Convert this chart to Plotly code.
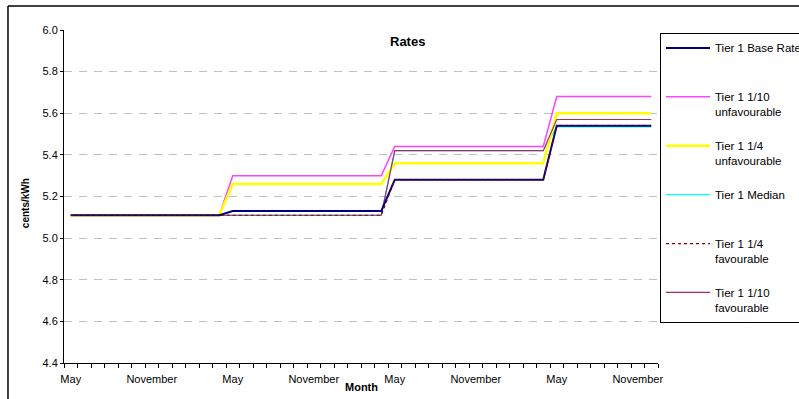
import plotly.graph_objects as go

# 44 monthly points, May (year 1) .. December (year 4)
month_index = list(range(44))
tick_positions = [0, 6, 12, 18, 24, 30, 36, 42]
tick_labels = ["May", "November", "May", "November", "May", "November", "May", "November"]

base = [5.11, 5.11, 5.11, 5.11, 5.11, 5.11, 5.11, 5.11, 5.11, 5.11, 5.11, 5.11,
        5.13, 5.13, 5.13, 5.13, 5.13, 5.13, 5.13, 5.13, 5.13, 5.13, 5.13, 5.13,
        5.28, 5.28, 5.28, 5.28, 5.28, 5.28, 5.28, 5.28, 5.28, 5.28, 5.28, 5.28,
        5.54, 5.54, 5.54, 5.54, 5.54, 5.54, 5.54, 5.54]
unfav_10 = [5.11, 5.11, 5.11, 5.11, 5.11, 5.11, 5.11, 5.11, 5.11, 5.11, 5.11, 5.11,
            5.30, 5.30, 5.30, 5.30, 5.30, 5.30, 5.30, 5.30, 5.30, 5.30, 5.30, 5.30,
            5.44, 5.44, 5.44, 5.44, 5.44, 5.44, 5.44, 5.44, 5.44, 5.44, 5.44, 5.44,
            5.68, 5.68, 5.68, 5.68, 5.68, 5.68, 5.68, 5.68]
unfav_4 = [5.11, 5.11, 5.11, 5.11, 5.11, 5.11, 5.11, 5.11, 5.11, 5.11, 5.11, 5.11,
           5.26, 5.26, 5.26, 5.26, 5.26, 5.26, 5.26, 5.26, 5.26, 5.26, 5.26, 5.26,
           5.36, 5.36, 5.36, 5.36, 5.36, 5.36, 5.36, 5.36, 5.36, 5.36, 5.36, 5.36,
           5.60, 5.60, 5.60, 5.60, 5.60, 5.60, 5.60, 5.60]
median = [5.11, 5.11, 5.11, 5.11, 5.11, 5.11, 5.11, 5.11, 5.11, 5.11, 5.11, 5.11,
          5.11, 5.11, 5.11, 5.11, 5.11, 5.11, 5.11, 5.11, 5.11, 5.11, 5.11, 5.11,
          5.42, 5.42, 5.42, 5.42, 5.42, 5.42, 5.42, 5.42, 5.42, 5.42, 5.42, 5.42,
          5.535, 5.535, 5.535, 5.535, 5.535, 5.535, 5.535, 5.535]
fav_4 = [5.11, 5.11, 5.11, 5.11, 5.11, 5.11, 5.11, 5.11, 5.11, 5.11, 5.11, 5.11,
         5.11, 5.11, 5.11, 5.11, 5.11, 5.11, 5.11, 5.11, 5.11, 5.11, 5.11, 5.11,
         5.28, 5.28, 5.28, 5.28, 5.28, 5.28, 5.28, 5.28, 5.28, 5.28, 5.28, 5.28,
         5.54, 5.54, 5.54, 5.54, 5.54, 5.54, 5.54, 5.54]
fav_10 = [5.11, 5.11, 5.11, 5.11, 5.11, 5.11, 5.11, 5.11, 5.11, 5.11, 5.11, 5.11,
          5.11, 5.11, 5.11, 5.11, 5.11, 5.11, 5.11, 5.11, 5.11, 5.11, 5.11, 5.11,
          5.42, 5.42, 5.42, 5.42, 5.42, 5.42, 5.42, 5.42, 5.42, 5.42, 5.42, 5.42,
          5.57, 5.57, 5.57, 5.57, 5.57, 5.57, 5.57, 5.57]

y_ticks = [4.4, 4.6, 4.8, 5.0, 5.2, 5.4, 5.6, 5.8, 6.0]
y_labels = ["4.4", "4.6", "4.8", "5.0", "5.2", "5.4", "5.6", "5.8", "6.0"]

FONT = "Liberation Sans, Arial, sans-serif"
NB = "\u00a0"

# draw order (bottom to top) with legend rank for legend order
series = [
    ("Tier 1 Median<br>" + NB, median, "#00FFFF", 1.2, "solid", 4),
    ("Tier 1 1/10<br>unfavourable", unfav_10, "#FF44FF", 1.5, "solid", 2),
    ("Tier 1 1/4<br>unfavourable", unfav_4, "#FFFF00", 2.5, "solid", 3),
    ("Tier 1 1/10<br>favourable", fav_10, "#993366", 1.2, "solid", 6),
    ("Tier 1 Base Rate<br>" + NB, base, "#000080", 2.0, "solid", 1),
    ("Tier 1 1/4<br>favourable", fav_4, "#800000", 1.2, "dot", 5),
]

fig = go.Figure()
for name, vals, color, width, dash, rank in series:
    fig.add_trace(go.Scatter(
        x=month_index, y=vals, mode="lines", name=name,
        line=dict(color=color, width=width, dash=dash),
        legendgroup=name, legendrank=rank,
    ))

fig.update_layout(
    width=799, height=399,
    margin=dict(l=64, r=141, t=30, b=36, autoexpand=False),
    paper_bgcolor="white", plot_bgcolor="white",
    font=dict(family=FONT, size=11, color="#000000"),
    showlegend=True,
    legend=dict(
        x=1.0034, xanchor="left", y=0.991, yanchor="top",
        bordercolor="#000000", borderwidth=1, bgcolor="white",
        font=dict(family=FONT, size=11.5, color="#000000"),
        valign="top", tracegroupgap=16, itemwidth=44,
        entrywidth=160,
    ),
    xaxis=dict(
        range=[-0.5, 43.5], tickmode="array", tickvals=tick_positions, ticktext=tick_labels,
        ticks="", showgrid=False, zeroline=False, ticklabelstandoff=6,
        showline=True, linecolor="#000000", linewidth=1,
        tickfont=dict(family=FONT, size=11, color="#000000"),
        minor=dict(tickmode="linear", tick0=-0.5, dtick=1, ticks="outside", ticklen=4,
                   tickcolor="#000000", tickwidth=1, showgrid=False),
    ),
    yaxis=dict(
        range=[4.4, 6.0], tickmode="array", tickvals=y_ticks, ticktext=y_labels,
        ticks="outside", ticklen=3, tickcolor="#000000",
        showline=True, linecolor="#000000", linewidth=1,
        showgrid=True, gridcolor="#C0C0C0", griddash="8px,7px", gridwidth=1,
        zeroline=False,
        tickfont=dict(family=FONT, size=11, color="#000000"),
    ),
    annotations=[
        dict(text="<b>Rates</b>", x=0.579, y=0.964, xref="paper", yref="paper",
             xanchor="center", yanchor="middle",
             showarrow=False, font=dict(family=FONT, size=13, color="#000000")),
        dict(text="<b>Month</b>", x=0.5, y=-0.072, xref="paper", yref="paper",
             xanchor="center", yanchor="middle",
             showarrow=False, font=dict(family=FONT, size=11, color="#000000")),
        dict(text="<b>cents/kWh</b>", x=-0.0657, y=0.48, xref="paper", yref="paper",
             xanchor="center", yanchor="middle",
             showarrow=False, textangle=-90, font=dict(family=FONT, size=10, color="#000000")),
    ],
    shapes=[
        dict(type="line", xref="paper", yref="paper", x0=-0.0943, x1=-0.0943, y0=1.072, y1=-0.2,
             line=dict(color="#000000", width=1.5)),
        dict(type="line", xref="paper", yref="paper", x0=-0.0943, x1=1.3, y0=1.072, y1=1.072,
             line=dict(color="#000000", width=1.5)),
    ],
)

fig.write_html("out.html", config={"displayModeBar": False},
               post_script="document.body.style.margin='0';")
